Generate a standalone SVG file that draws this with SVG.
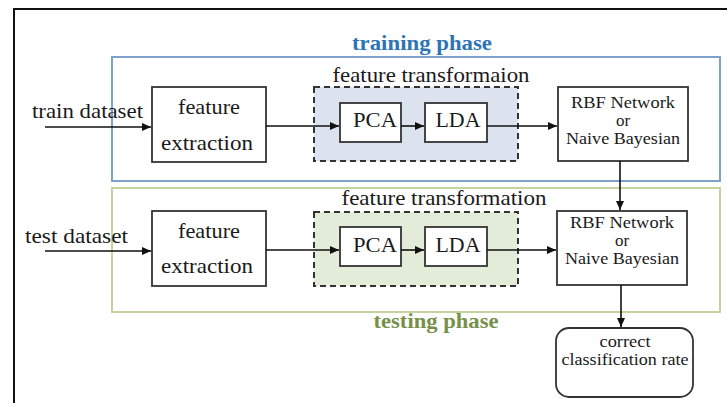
<svg xmlns="http://www.w3.org/2000/svg" width="727" height="403" viewBox="0 0 727 403">
<defs>
<marker id="ah" markerWidth="10" markerHeight="10" refX="9" refY="5" orient="auto" markerUnits="userSpaceOnUse">
<path d="M0,1 L9,5 L0,9 Z" fill="#111"/>
</marker>
<style>
.t{font-family:"Liberation Serif","Times New Roman",serif;fill:#1a1a1a;}
.m{font-size:21px;}
.s{font-size:17px;}
.ph{font-size:21px;font-weight:bold;}
.box{fill:#fff;stroke:#333;stroke-width:1.8;}
.dash{stroke:#333;stroke-width:2;stroke-dasharray:6,4;}
.c{stroke:#111;stroke-width:1.6;fill:none;marker-end:url(#ah);}
</style>
</defs>
<rect width="727" height="403" fill="#fff"/>
<path d="M14,403 L14,9 L727,9" fill="none" stroke="#111" stroke-width="2"/>

<g id="training-phase">
<rect x="112" y="57" width="608" height="124" fill="none" stroke="#7fa2cc" stroke-width="2"/>
<text class="t ph" x="422" y="50" text-anchor="middle" textLength="140" lengthAdjust="spacingAndGlyphs" style="fill:#2e74b5">training phase</text>
</g>
<g id="testing-phase">
<rect x="112" y="188" width="608" height="124" fill="none" stroke="#c3d49e" stroke-width="2"/>
<text class="t ph" x="436" y="328" text-anchor="middle" textLength="125" lengthAdjust="spacingAndGlyphs" style="fill:#76904a">testing phase</text>
</g>

<g id="train-dataset">
<text class="t m" x="32" y="118" textLength="111" lengthAdjust="spacingAndGlyphs">train dataset</text>
</g>
<g id="test-dataset">
<text class="t m" x="25" y="243" textLength="103" lengthAdjust="spacingAndGlyphs">test dataset</text>
</g>

<g id="train-feature-extraction">
<rect class="box" x="152" y="87" width="114" height="75"/>
<text class="t m" x="209" y="114" text-anchor="middle" textLength="62" lengthAdjust="spacingAndGlyphs">feature</text>
<text class="t m" x="207" y="150" text-anchor="middle" textLength="92" lengthAdjust="spacingAndGlyphs">extraction</text>
</g>
<g id="train-feature-transformation">
<rect class="dash" x="314" y="87" width="204" height="74" fill="#dce3ee"/>
<text class="t m" x="431" y="82" text-anchor="middle" textLength="197" lengthAdjust="spacingAndGlyphs">feature transformaion</text>
</g>
<g id="train-pca">
<rect class="box" x="340" y="103" width="61" height="39"/>
<text class="t m" x="375" y="127" text-anchor="middle" textLength="44" lengthAdjust="spacingAndGlyphs">PCA</text>
</g>
<g id="train-lda">
<rect class="box" x="425" y="103" width="62" height="39"/>
<text class="t m" x="458" y="127" text-anchor="middle" textLength="45" lengthAdjust="spacingAndGlyphs">LDA</text>
</g>
<g id="train-classifier">
<rect class="box" x="558" y="87" width="130" height="74"/>
<text class="t s" x="623" y="108" text-anchor="middle" textLength="104" lengthAdjust="spacingAndGlyphs">RBF Network</text>
<text class="t s" x="623" y="126" text-anchor="middle">or</text>
<text class="t s" x="623" y="144" text-anchor="middle" textLength="114" lengthAdjust="spacingAndGlyphs">Naive Bayesian</text>
</g>

<g id="test-feature-extraction">
<rect class="box" x="152" y="211" width="114" height="75"/>
<text class="t m" x="209" y="238" text-anchor="middle" textLength="62" lengthAdjust="spacingAndGlyphs">feature</text>
<text class="t m" x="207" y="273" text-anchor="middle" textLength="92" lengthAdjust="spacingAndGlyphs">extraction</text>
</g>
<g id="test-feature-transformation">
<rect class="dash" x="314" y="212" width="204" height="74" fill="#e3ebd9"/>
<text class="t m" x="444" y="205" text-anchor="middle" textLength="205" lengthAdjust="spacingAndGlyphs">feature transformation</text>
</g>
<g id="test-pca">
<rect class="box" x="340" y="227" width="61" height="39"/>
<text class="t m" x="375" y="252" text-anchor="middle" textLength="44" lengthAdjust="spacingAndGlyphs">PCA</text>
</g>
<g id="test-lda">
<rect class="box" x="425" y="227" width="62" height="39"/>
<text class="t m" x="458" y="252" text-anchor="middle" textLength="45" lengthAdjust="spacingAndGlyphs">LDA</text>
</g>
<g id="test-classifier">
<rect class="box" x="557" y="211" width="130" height="74"/>
<text class="t s" x="622" y="228" text-anchor="middle" textLength="104" lengthAdjust="spacingAndGlyphs">RBF Network</text>
<text class="t s" x="622" y="246" text-anchor="middle">or</text>
<text class="t s" x="622" y="264" text-anchor="middle" textLength="114" lengthAdjust="spacingAndGlyphs">Naive Bayesian</text>
</g>

<g id="correct-rate">
<rect class="box" x="556" y="328" width="137" height="69" rx="13"/>
<text class="t s" x="625" y="347" text-anchor="middle" textLength="51" lengthAdjust="spacingAndGlyphs">correct</text>
<text class="t s" x="625" y="365" text-anchor="middle" textLength="127" lengthAdjust="spacingAndGlyphs">classification rate</text>
</g>

<g id="connectors">
<line class="c" x1="45" y1="127" x2="151" y2="127"/>
<line class="c" x1="266" y1="126" x2="339" y2="126"/>
<line class="c" x1="401" y1="126" x2="424" y2="126"/>
<line class="c" x1="487" y1="126" x2="557" y2="126"/>
<line class="c" x1="45" y1="251" x2="151" y2="251"/>
<line class="c" x1="266" y1="250" x2="339" y2="250"/>
<line class="c" x1="401" y1="250" x2="424" y2="250"/>
<line class="c" x1="487" y1="250" x2="556" y2="250"/>
<line class="c" x1="620" y1="161" x2="620" y2="210"/>
<line class="c" x1="621" y1="285" x2="621" y2="327"/>
</g>
</svg>
